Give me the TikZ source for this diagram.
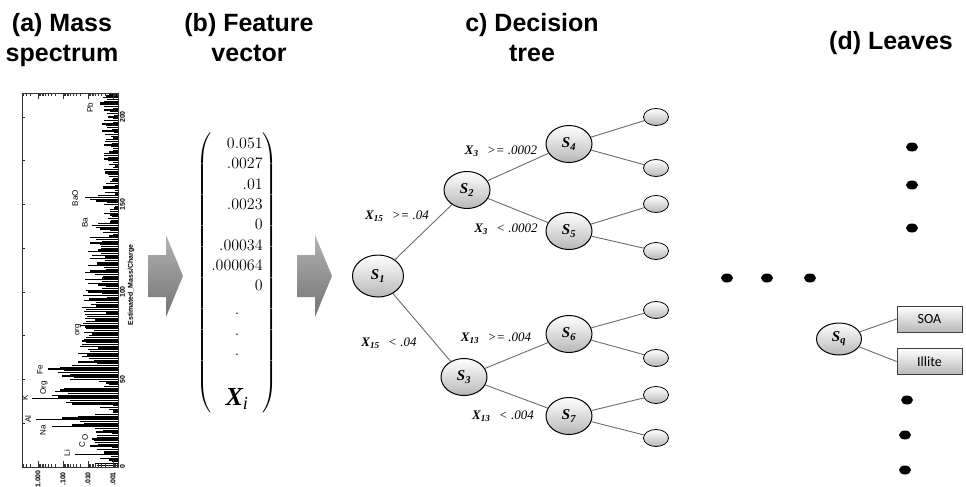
\RequirePackage{fix-cm}
\documentclass[tikz,border=0pt]{standalone}
\usepackage{amsmath}
\usepackage{fontspec}
\setsansfont{Liberation Sans}
\newfontfamily\tmsfont{Liberation Serif}
\newfontfamily\calfont{Carlito}
\usetikzlibrary{shapes.geometric}
\definecolor{edgegray}{rgb}{0.42,0.42,0.42}
\definecolor{shadegray}{rgb}{0.72,0.72,0.72}
\definecolor{arrowlight}{rgb}{0.70,0.70,0.70}
\definecolor{arrowdark}{rgb}{0.45,0.45,0.45}

\newcommand{\slab}[1]{{\tmsfont\bfseries\itshape S\textsubscript{#1}}}
\newcommand{\cond}[2]{{\tmsfont\bfseries\itshape X\textsubscript{#1}}\ \ {\tmsfont\itshape #2}}

\tikzset{
  titel/.style={font=\sffamily\bfseries\fontsize{25}{30}\selectfont, align=center, inner sep=0pt, anchor=north},
  knoten/.style={ellipse, draw=black, line width=1pt, top color=white, bottom color=shadegray,
    inner sep=0pt, minimum width=46pt, minimum height=37pt, font=\fontsize{15}{15}\selectfont},
  blatt/.style={ellipse, draw=black, line width=0.8pt, top color=white, bottom color=shadegray,
    inner sep=0pt, minimum width=25pt, minimum height=17pt},
  kante/.style={edgegray, line width=0.9pt},
  bedingung/.style={font=\fontsize{13}{13}\selectfont, inner sep=0pt},
  punkt/.style={ellipse, fill=black, inner sep=0pt, minimum width=12pt, minimum height=9pt},
  klasse/.style={rectangle, draw=black!75, line width=0.8pt, top color=white, bottom color=shadegray,
    inner sep=0pt, minimum width=65pt, minimum height=26pt, font=\calfont\fontsize{14}{14}\selectfont},
  balken/.style={line width=1.3pt, black},
  achse/.style={line width=0.6pt, black!80},
  spektext/.style={rotate=90, font=\sffamily\bfseries\fontsize{7}{7}\selectfont, inner sep=0pt},
  peaktext/.style={rotate=90, font=\sffamily\fontsize{8}{8}\selectfont, inner sep=0pt},
}

\begin{document}
\begin{tikzpicture}[x=1pt, y=-1pt]
\useasboundingbox (0,0) rectangle (966,487);

% Ueberschriften
\node[titel] (ta) at (62,13) {(a) Mass\\spectrum};
\node[titel] (tb) at (249,13) {(b) Feature\\vector};
\node[titel] (tc) at (532,13) {c) Decision\\tree};
\node[titel] (td) at (891,31) {(d) Leaves};

% Massenspektrum, gedreht: Masse nach oben, Intensitaet nach links
\pgfmathsetseed{17}
\foreach \m in {1,...,213}{
  \pgfmathsetmacro{\blen}{(\m<62)*(4+20*rnd) + and(\m>=62,\m<132)*(10+26*rnd) + (\m>=132)*(2+14*rnd)}
  \draw[balken] (118,{467-1.75*\m}) -- ++(-\blen,0);
}
\foreach \m/\tip in {5/100, 7/75, 12/90, 13/98, 15/94, 16/92, 17/98, 23/52, 24/72, 25/84,
  26/80, 27/36, 28/62, 29/78, 36/72, 37/66, 38/70, 39/32, 40/58, 41/52, 42/68, 43/55, 44/60,
  45/64, 50/70, 51/74, 52/62, 53/70, 54/58, 55/64, 56/48, 57/60, 58/72, 60/78, 63/82, 65/78,
  69/80, 72/82, 74/86, 77/84, 79/86, 81/80, 83/86, 89/84, 91/82, 95/84, 101/86, 105/88,
  112/90, 115/88, 121/92, 128/94, 136/100, 137/96, 138/92, 139/98, 150/104, 152/96, 153/90,
  154/85, 155/98, 162/106, 170/104, 178/104, 186/106, 195/108, 204/106, 206/104, 207/100,
  208/100, 209/104, 212/106}
  \draw[balken] (118,{467-1.75*\m}) -- (\tip,{467-1.75*\m});

% Rahmen und Skalen
\draw[achse] (22,93) rectangle (118,467);
\foreach \m in {25,50,...,200} \draw[achse] (22,{467-1.75*\m}) -- ++(3,0);
\foreach \x in {38,63,88,113} \draw[achse] (\x,93) -- ++(0,6) (\x,467) -- ++(0,-6);
\foreach \d in {-1,...,3}{
  \foreach \k in {2,...,9}{
    \pgfmathsetmacro{\tx}{63+25*\d-25*log10(\k)}
    \ifdim\tx pt>22pt \ifdim\tx pt<118pt
      \draw[achse] (\tx,93) -- ++(0,3) (\tx,467) -- ++(0,-3);
    \fi\fi
  }
}
\foreach \x/\t in {38/1.000, 63/.100, 88/.010, 113/.001}
  \node[spektext] (iy\x) at (\x,479) {\t};
\foreach \m in {0,50,100,150,200}
  \node[spektext] (mx\m) at (122.5,{467-1.75*\m}) {\m};
\node[spektext] (xlab) at (131,285) {Estimated\_Mass/Charge};

% Peaknamen
\foreach \t/\x/\y in {Li/67/453, C/82/445, O/85/437, Na/43/430, Al/28/419, K/25/398,
  Org/44/388, Fe/40/370, org/78/330, Ba/85/223, BaO/75/198, Pb/90/108}
  \node[peaktext] (p\t) at (\x,\y) {\t};

% Pfeile
\shade[top color=arrowlight, bottom color=arrowdark] (148,255) -- (166,255) -- (166,235)
  -- (183,276) -- (166,317) -- (166,297) -- (148,297) -- cycle;
\shade[top color=arrowlight, bottom color=arrowdark] (297,255) -- (315,255) -- (315,235)
  -- (332,276) -- (315,317) -- (315,297) -- (297,297) -- cycle;

% Merkmalsvektor
\node[inner sep=0pt, font=\fontsize{16}{20.3}\selectfont] (fvec) at (237,273) {$\left(\begin{array}{@{}r@{}}
  0.051\\ .0027\\ .01\\ .0023\\ 0\\ .00034\\ .000064\\ 0\\[4pt]
  \multicolumn{1}{@{}c@{}}{.}\\ \multicolumn{1}{@{}c@{}}{.}\\ \multicolumn{1}{@{}c@{}}{.}\\[27pt]
  \multicolumn{1}{@{}c@{}}{\hbox{\tmsfont\bfseries\itshape\fontsize{26}{26}\selectfont X\textsubscript{\mdseries i}}}
\end{array}\right)$};

% Entscheidungsbaum
\node[knoten, minimum width=51pt, minimum height=42pt] (s1) at (378,276) {\slab{1}};
\node[knoten] (s2) at (467,190) {\slab{2}};
\node[knoten] (s3) at (464,377) {\slab{3}};
\node[knoten] (s4) at (569,144) {\slab{4}};
\node[knoten] (s5) at (569,231) {\slab{5}};
\node[knoten] (s6) at (569,334) {\slab{6}};
\node[knoten] (s7) at (569,416) {\slab{7}};
\draw[kante] (s1) -- (s2);
\draw[kante] (s1) -- (s3);
\draw[kante] (s2) -- (s4);
\draw[kante] (s2) -- (s5);
\draw[kante] (s3) -- (s6);
\draw[kante] (s3) -- (s7);
\foreach \p/\ya/\yb in {4/117/168, 5/204/251, 6/310/358, 7/395/438}{
  \node[blatt] (l\p a) at (656,\ya) {};
  \node[blatt] (l\p b) at (656,\yb) {};
  \draw[kante] (s\p) -- (l\p a);
  \draw[kante] (s\p) -- (l\p b);
}

% Bedingungen an den Kanten
\node[bedingung] (c12) at (397,216) {\cond{15}{>= .04}};
\node[bedingung] (c13) at (389,343) {\cond{15}{< .04}};
\node[bedingung] (c24) at (501,151) {\cond{3}{>= .0002}};
\node[bedingung] (c25) at (506,229) {\cond{3}{< .0002}};
\node[bedingung] (c36) at (496,338) {\cond{13}{>= .004}};
\node[bedingung] (c37) at (503,416) {\cond{13}{< .004}};

% Auslassungspunkte
\foreach \n/\x/\y in {1/727/278, 2/767/278, 3/810/278, 4/912/147, 5/912/185, 6/912/228,
  7/907/400, 8/905/435, 9/905/470}
  \node[punkt] (d\n) at (\x,\y) {};

% Blatt mit Klassen
\node[knoten, minimum width=45pt, minimum height=32pt] (sq) at (839,339) {\slab{q}};
\node[klasse] (soa) at (929.5,319) {SOA};
\node[klasse] (illite) at (929.5,361.5) {Illite};
\draw[kante] (sq) -- (soa.west);
\draw[kante] (sq) -- (illite.west);

\end{tikzpicture}
\end{document}
